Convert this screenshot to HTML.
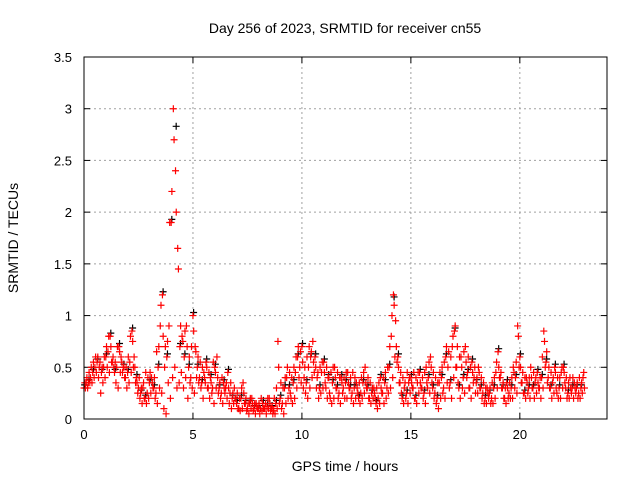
<!DOCTYPE html>
<html><head><meta charset="utf-8"><style>
body{margin:0;background:#fff}
svg{display:block;font-family:"Liberation Sans",sans-serif}
</style></head><body>
<svg id="chart" width="640" height="480" viewBox="0 0 640 480">
<rect width="640" height="480" fill="#fff"/>
<text x="345" y="33" font-size="14" text-anchor="middle">Day 256 of 2023, SRMTID for receiver cn55</text>
<text transform="translate(18,238) rotate(-90)" font-size="14" text-anchor="middle">SRMTID / TECUs</text>
<text x="345" y="471" font-size="14" text-anchor="middle">GPS time / hours</text>
<g id="grid"></g><g id="ticks"></g><g id="marks"></g>
<rect x="84" y="57" width="523" height="362" fill="none" stroke="#000" stroke-width="1"/>
</svg>
<script>
const xTicks=[0,5,10,15,20];
const yTicks=[0,0.5,1,1.5,2,2.5,3,3.5];
const yTickLabels=["0","0.5","1","1.5","2","2.5","3","3.5"];
const step=0.1;
const redMain=[0.3,0.35,0.35,0.4,0.45,0.5,0.55,0.5,0.45,0.5,
0.6,0.65,0.8,0.55,0.45,0.5,0.7,0.6,0.5,0.4,
0.45,0.55,0.85,0.6,0.4,0.3,0.25,0.3,0.2,0.25,
0.35,0.4,0.3,0.25,0.5,0.9,1.2,0.5,0.6,0.9,
1.9,3.0,2.4,1.65,0.7,0.8,0.6,0.9,0.5,0.4,
1.0,0.7,0.5,0.4,0.35,0.45,0.55,0.3,0.4,0.3,
0.5,0.6,0.3,0.25,0.35,0.3,0.45,0.25,0.2,0.3,
0.15,0.1,0.2,0.35,0.15,0.1,0.15,0.2,0.1,0.15,
0.1,0.1,0.15,0.1,0.12,0.2,0.1,0.08,0.15,0.75,
0.2,0.15,0.3,0.4,0.3,0.2,0.35,0.45,0.6,0.5,
0.7,0.4,0.35,0.5,0.6,0.75,0.6,0.4,0.3,0.45,
0.55,0.3,0.4,0.2,0.35,0.5,0.3,0.25,0.4,0.3,
0.35,0.45,0.3,0.25,0.3,0.35,0.2,0.25,0.35,0.5,
0.3,0.2,0.25,0.3,0.15,0.2,0.4,0.25,0.35,0.3,
0.5,0.8,1.2,0.95,0.6,0.35,0.2,0.3,0.25,0.35,
0.4,0.3,0.2,0.35,0.45,0.3,0.25,0.5,0.4,0.6,
0.3,0.25,0.2,0.35,0.4,0.3,0.6,0.5,0.35,0.7,
0.85,0.5,0.3,0.6,0.4,0.7,0.45,0.3,0.55,0.4,
0.35,0.5,0.3,0.25,0.2,0.3,0.25,0.2,0.3,0.45,
0.65,0.4,0.3,0.2,0.35,0.25,0.3,0.5,0.4,0.9,
0.6,0.35,0.25,0.4,0.3,0.5,0.3,0.35,0.45,0.3,
0.4,0.85,0.55,0.4,0.3,0.35,0.5,0.25,0.3,0.45,
0.5,0.3,0.25,0.4,0.3,0.35,0.3,0.25,0.3,0.4];
const redHigh=[0.35,0.4,0.45,0.5,0.55,0.6,0.6,0.55,0.5,0.6,
0.7,0.8,0.7,0.6,0.55,0.7,0.65,0.55,0.5,0.5,
0.6,0.8,0.75,0.5,0.35,0.4,0.3,0.35,0.45,0.4,
0.45,0.35,0.4,0.65,0.7,1.1,0.8,0.7,0.75,1.9,
2.2,2.7,2.0,1.45,0.9,0.75,0.85,0.7,0.6,0.7,
0.85,0.65,0.6,0.55,0.5,0.4,0.5,0.45,0.35,0.55,
0.45,0.4,0.35,0.4,0.3,0.35,0.3,0.35,0.25,0.2,
0.25,0.2,0.3,0.25,0.2,0.15,0.2,0.15,0.15,0.12,
0.15,0.2,0.1,0.15,0.2,0.15,0.12,0.2,0.3,0.5,
0.35,0.3,0.4,0.5,0.45,0.4,0.5,0.6,0.7,0.65,
0.55,0.5,0.6,0.7,0.65,0.55,0.5,0.45,0.5,0.55,
0.45,0.5,0.4,0.45,0.5,0.4,0.45,0.4,0.35,0.4,
0.45,0.35,0.4,0.45,0.4,0.3,0.35,0.4,0.45,0.35,
0.4,0.35,0.3,0.25,0.3,0.35,0.3,0.4,0.45,0.5,
0.7,1.0,1.1,0.7,0.5,0.45,0.4,0.35,0.45,0.4,
0.35,0.45,0.4,0.45,0.35,0.4,0.45,0.35,0.55,0.5,
0.45,0.4,0.35,0.45,0.5,0.55,0.7,0.65,0.6,0.8,
0.9,0.7,0.6,0.5,0.65,0.55,0.6,0.5,0.45,0.5,
0.4,0.45,0.4,0.35,0.3,0.25,0.3,0.35,0.4,0.55,
0.5,0.45,0.35,0.3,0.3,0.35,0.4,0.45,0.55,0.8,
0.5,0.45,0.4,0.35,0.4,0.4,0.45,0.4,0.35,0.4,
0.6,0.75,0.65,0.5,0.45,0.4,0.45,0.4,0.4,0.5,
0.45,0.4,0.35,0.3,0.4,0.3,0.35,0.4,0.35,0.45];
const redLow=[0.3,0.3,0.35,0.35,0.4,0.45,0.4,0.25,0.35,0.4,
0.5,0.45,0.55,0.5,0.35,0.3,0.45,0.45,0.4,0.3,
0.35,0.45,0.5,0.35,0.25,0.2,0.15,0.2,0.15,0.2,
0.25,0.3,0.2,0.15,0.3,0.25,0.1,0.05,0.35,0.2,
0.4,0.5,0.3,0.35,0.45,0.3,0.4,0.2,0.35,0.3,
0.25,0.4,0.35,0.3,0.2,0.35,0.3,0.2,0.25,0.15,
0.3,0.25,0.2,0.15,0.25,0.2,0.15,0.1,0.15,0.2,
0.1,0.08,0.1,0.15,0.08,0.05,0.1,0.08,0.05,0.1,
0.05,0.08,0.1,0.05,0.1,0.08,0.05,0.05,0.1,0.15,
0.1,0.05,0.15,0.2,0.25,0.15,0.2,0.3,0.4,0.35,
0.3,0.25,0.2,0.3,0.4,0.45,0.3,0.2,0.25,0.3,
0.35,0.2,0.25,0.15,0.2,0.3,0.2,0.15,0.25,0.2,
0.2,0.3,0.2,0.15,0.2,0.25,0.15,0.2,0.25,0.3,
0.2,0.15,0.2,0.2,0.1,0.15,0.25,0.15,0.2,0.25,
0.3,0.4,0.6,0.55,0.35,0.25,0.15,0.2,0.15,0.25,
0.3,0.2,0.15,0.25,0.3,0.2,0.15,0.3,0.25,0.35,
0.2,0.15,0.1,0.2,0.25,0.2,0.35,0.3,0.2,0.4,
0.5,0.35,0.2,0.3,0.25,0.4,0.3,0.2,0.35,0.25,
0.25,0.3,0.2,0.15,0.15,0.2,0.15,0.15,0.2,0.3,
0.4,0.3,0.2,0.15,0.2,0.2,0.2,0.3,0.25,0.5,
0.35,0.25,0.2,0.25,0.2,0.3,0.2,0.25,0.3,0.2,
0.3,0.5,0.35,0.3,0.2,0.25,0.3,0.2,0.2,0.3,
0.35,0.2,0.2,0.25,0.2,0.25,0.2,0.2,0.25,0.3];
const blackVals=[0.3,0.35,0.45,0.55,0.45,0.6,0.8,0.45,0.7,0.5,
0.45,0.85,0.4,0.25,0.2,0.35,0.3,0.5,1.2,0.6,
1.9,2.8,0.7,0.6,0.5,1.0,0.5,0.35,0.55,0.4,
0.5,0.3,0.35,0.45,0.2,0.15,0.2,0.15,0.15,0.1,
0.1,0.15,0.12,0.1,0.15,0.2,0.3,0.3,0.35,0.6,
0.7,0.35,0.6,0.6,0.3,0.55,0.4,0.35,0.3,0.4,
0.35,0.3,0.3,0.2,0.35,0.3,0.25,0.15,0.4,0.35,
0.5,1.15,0.6,0.2,0.25,0.4,0.2,0.45,0.25,0.4,
0.3,0.2,0.4,0.6,0.35,0.85,0.3,0.4,0.45,0.55,
0.35,0.3,0.2,0.25,0.3,0.65,0.3,0.35,0.3,0.4,
0.6,0.25,0.3,0.3,0.45,0.4,0.55,0.3,0.5,0.3,
0.5,0.25,0.3,0.3,0.3];
const xMin=0,xMax=24,yMin=0,yMax=3.5;
const L=84,R=607,T=57,B=419;
const xs=v=>L+(v-xMin)/(xMax-xMin)*(R-L);
const ys=v=>B-(v-yMin)/(yMax-yMin)*(B-T);
const NS="http://www.w3.org/2000/svg";
const grid=document.getElementById('grid'),ticks=document.getElementById('ticks'),marks=document.getElementById('marks');
function mk(tag,attrs,parent){const e=document.createElementNS(NS,tag);for(const k in attrs)e.setAttribute(k,attrs[k]);parent.appendChild(e);return e;}
xTicks.forEach(t=>{
  const x=xs(t);
  if(t>xMin){const g=mk('line',{x1:x,x2:x,y1:T,y2:B,stroke:'#a0a0a0','stroke-dasharray':'2,3'},grid);
  
  }
  mk('line',{x1:x,x2:x,y1:B,y2:B-6,stroke:'#000'},ticks);
  mk('line',{x1:x,x2:x,y1:T,y2:T+6,stroke:'#000'},ticks);
  const tx=mk('text',{x:x,y:B+20,'font-size':13,'text-anchor':'middle'},ticks);tx.textContent=t;
  
  
});
yTicks.forEach((t,i)=>{
  const y=ys(t);
  if(t>yMin&&t<yMax){const g=mk('line',{x1:L,x2:R,y1:y,y2:y,stroke:'#a0a0a0','stroke-dasharray':'2,3'},grid);
  
  }
  mk('line',{x1:L,x2:L+6,y1:y,y2:y,stroke:'#000'},ticks);
  mk('line',{x1:R,x2:R-6,y1:y,y2:y,stroke:'#000'},ticks);
  const tx=mk('text',{x:L-12,y:y+5,'font-size':13,'text-anchor':'end'},ticks);tx.textContent=yTickLabels[i];
  
  
});
function plus(t,v,color,name){
  const x=xs(t),y=ys(v);
  const p=mk('path',{d:`M${x-3.5},${y}h7M${x},${y-3.5}v7`,stroke:color,'stroke-width':1.2,fill:'none'},marks);
  
  
}
blackVals.forEach((v,i)=>plus(i*0.2+0.03,v+0.03,'#000','black-point'));
redLow.forEach((v,i)=>plus(i*step+0.066,v,'#ff0000','red-point'));
redHigh.forEach((v,i)=>plus(i*step+0.033,v,'#ff0000','red-point'));
redMain.forEach((v,i)=>plus(i*step,v,'#ff0000','red-point'));
</script>
</body></html>
